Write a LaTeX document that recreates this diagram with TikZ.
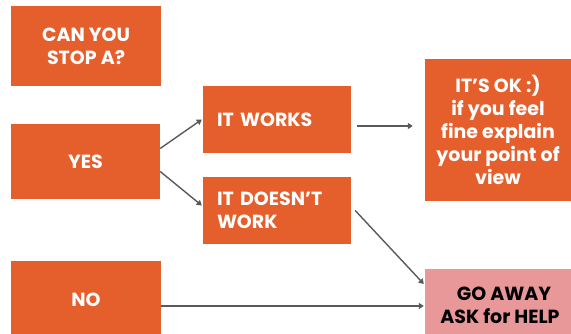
\documentclass[tikz,border=0pt]{standalone}
\usepackage{fontspec}
\setmainfont{Poppins}
\usepackage{tikz}
\usetikzlibrary{arrows.meta,positioning}
\definecolor{boxorange}{HTML}{E55F2D}
\definecolor{boxpink}{HTML}{E89898}
\definecolor{flowgray}{HTML}{5A5A5A}
\tikzset{
  step box/.style ={rectangle, fill=boxorange, text=white, font=\bfseries\fontsize{19}{23}\selectfont,
                    inner sep=0pt, align=center},
  stepL/.style    ={step box, align=left, text width=120pt},
  stepP/.style    ={step box, fill=boxpink, text=black},
  flow/.style     ={-{Triangle[length=5pt,width=6pt]}, line width=1.4pt, draw=flowgray},
}

\begin{document}
\begin{tikzpicture}[x=1pt,y=-1pt]
  \useasboundingbox (0,0) rectangle (571,334);
  \node[step box, minimum width=150pt, minimum height=80pt] (stop) at (86,46)   {CAN YOU\\STOP A?};
  \node[step box, minimum width=149pt, minimum height=75pt] (yes)  at (85.5,161.5) {YES};
  \node[stepL, minimum width=148pt, minimum height=67pt] (works) at (277,119.5) {\mbox{IT WORKS}};
  \node[stepL, minimum width=148pt, minimum height=67pt] (fails) at (277,210.5) {\mbox{IT DOESN{\char"27}T}\\WORK};
  \node[step box, minimum width=146pt, minimum height=142pt] (ok)  at (498,130)
        {IT’S OK :)\\if you feel\\fine explain\\your point of\\view};
  \node[step box, minimum width=150pt, minimum height=78pt] (no)   at (86,300)  {NO};
  \node[stepP, minimum width=150pt, minimum height=72pt] (away) at (500,305)
        {\hspace*{8pt}GO AWAY\\ASK for HELP};
  \draw[flow] ([yshift=13pt]yes.east) -- ([xshift=-1pt]works.west);
  \draw[flow] ([yshift=-10pt]yes.east) -- ([xshift=-1pt,yshift=5pt]fails.west);
  \draw[flow] ([xshift=6pt,yshift=-6.5pt]works.east) -- ([xshift=-12pt,yshift=4pt]ok.west);
  \draw[flow] ([xshift=4pt]fails.east) -- ([xshift=-1pt,yshift=21pt]away.west);
  \draw[flow] ([yshift=-6pt]no.east) -- ([xshift=-1pt,yshift=-1pt]away.west);
\end{tikzpicture}
\end{document}
